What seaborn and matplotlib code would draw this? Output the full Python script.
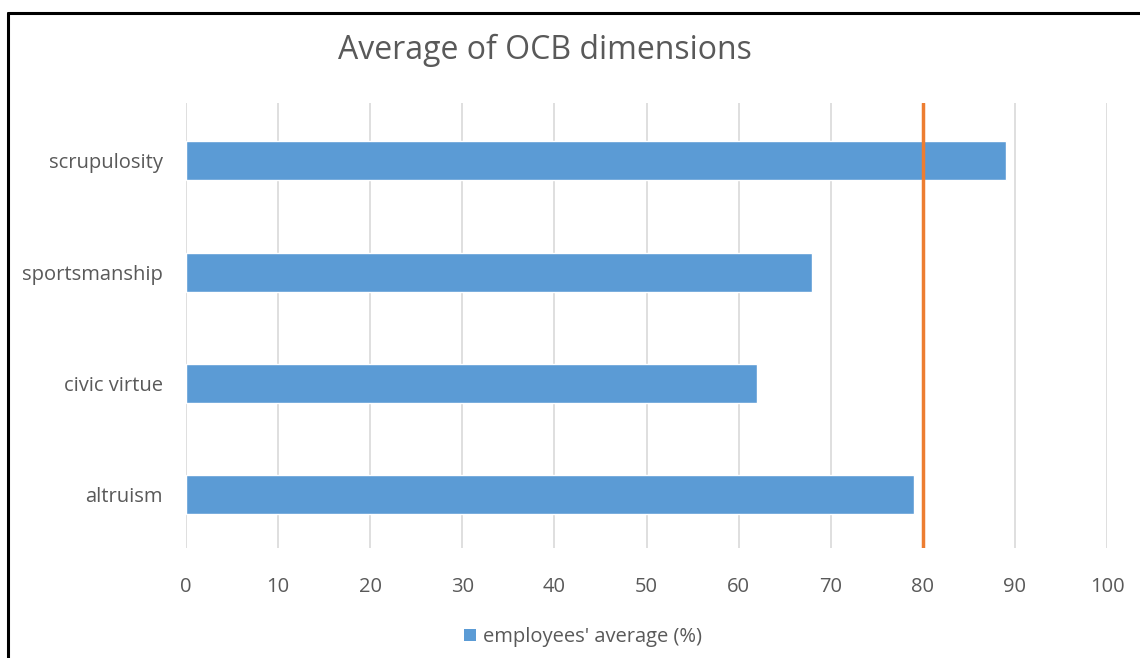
import matplotlib
matplotlib.use("Agg")
import matplotlib.pyplot as plt
import seaborn as sns
import pandas as pd
from matplotlib.lines import Line2D
from matplotlib.patches import Patch

categories = ["scrupulosity", "sportsmanship", "civic virtue", "altruism"]
values = [89, 68, 62, 79]
threshold = 80
x_ticks = [0, 10, 20, 30, 40, 50, 60, 70, 80, 90, 100]
series_name = "employees' average (%)"
title = "Average of OCB dimensions"

df = pd.DataFrame({"dimension": categories, "value": values})

sns.set_theme(style="white")
plt.rcParams['font.family'] = ['Open Sans', 'DejaVu Sans']

text_color = "#595959"
bar_color = "#5B9BD5"
grid_color = "#D9D9D9"
line_color = "#ED7D31"

fig = plt.figure(figsize=(11.4, 6.58), dpi=100)
ax = fig.add_axes([186/1140, 1-548/658, (1107-186)/1140, (548-103)/658])

sns.barplot(data=df, x="value", y="dimension", orient="h", color=bar_color,
            width=0.35, ax=ax, saturation=1, order=categories)

ax.set_xlim(0, 100)
ax.set_ylim(3.48, -0.52)
ax.set_xticks(x_ticks)
ax.set_xticklabels([str(t) for t in x_ticks])
ax.xaxis.grid(True, color=grid_color, linewidth=1.2)
ax.yaxis.grid(False)
ax.set_axisbelow(True)
for s in ax.spines.values():
    s.set_visible(False)
ax.set_xlabel("")
ax.set_ylabel("")
ax.tick_params(axis="x", length=0, pad=21, labelsize=14.5, labelcolor=text_color)
ax.tick_params(axis="y", length=0, pad=16.5, labelsize=14.5, labelcolor=text_color)

ax.axvline(threshold, color=line_color, linewidth=2.5, zorder=5)

fig.text(545/1140, 1-50/658, title, ha="center", va="center", fontsize=23, color=text_color)

handles = [Patch(facecolor=bar_color, edgecolor="none", label=series_name)]
fig.legend(handles=handles, loc="center", bbox_to_anchor=(583/1140, 1-637/658),
           frameon=False, fontsize=14.5, labelcolor=text_color, handlelength=0.6,
           handleheight=0.6, handletextpad=0.35)

# partial frame of screenshot (left and top edges)
fig.add_artist(Line2D([7.5/1140, 7.5/1140], [0, 1-12.5/658], color="black", linewidth=2.2, transform=fig.transFigure))
fig.add_artist(Line2D([7.5/1140, 1], [1-12.5/658, 1-12.5/658], color="black", linewidth=2.2, transform=fig.transFigure))

fig.savefig("out.png", dpi=100)
